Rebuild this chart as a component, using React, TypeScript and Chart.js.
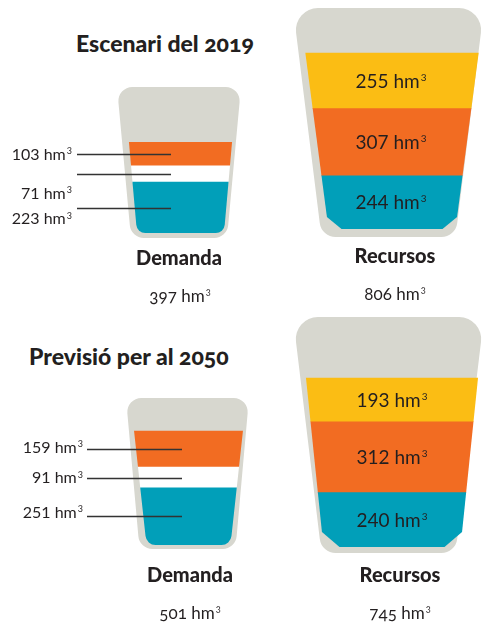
import React, { useEffect, useRef } from "react";
import { Chart, registerables } from "chart.js";

Chart.register(...registerables);

// ---------- DATA ----------
const scenarioTitles = ["Escenari del 2019", "Previsió per al 2050"];
const categoryNames = ["Demanda", "Recursos"];
const unitBase = "hm";
const unitExp = "3";
// stacked bottom -> top
const demandParts = ["Tram inferior", "Tram mitjà", "Tram superior"];
const resourceParts = ["Tram inferior", "Tram mitjà", "Tram superior"];
const demand2019 = [223, 71, 103];
const resources2019 = [244, 307, 255];
const demand2050 = [251, 91, 159];
const resources2050 = [240, 312, 193];

// ---------- STYLE ----------
const W = 487;
const H = 625;
const FONT = "Lato, 'Open Sans', sans-serif";
const TEXT = "#231f20";
const GRAY = "#d7d7cf";
const TEAL = "#019fb9";
const ORANGE = "#f26c22";
const YELLOW = "#fbbd14";
const WHITE = "#ffffff";
const demandColors = [TEAL, WHITE, ORANGE];
const resourceColors = [TEAL, ORANGE, YELLOW];

type Outer = { cx: number; top: number; bottom: number; topW: number; bottomW: number; rTop: number; rBot: number };
type Inner = { cx: number; top: number; bottom: number; topW: number; bottomW: number; r?: number; chamfer?: [number, number] };
type Cup = {
  kind: "demand" | "resources";
  yMax: number;
  outer: Outer;
  inner: Inner;
  leader?: { textRight: number; lineStart: number; lineEnd: number; labelDy: number[] };
  labelX?: number;
};

const cups: Cup[] = [
  {
    kind: "demand",
    yMax: 640,
    outer: { cx: 179, top: 87, bottom: 238, topW: 124, bottomW: 96, rTop: 14, rBot: 14 },
    inner: { cx: 180.5, top: 92, bottom: 233, topW: 112, bottomW: 87, r: 9 },
    leader: { textRight: 72, lineStart: 77, lineEnd: 171, labelDy: [11, 19, 0] },
  },
  {
    kind: "resources",
    yMax: 1012,
    outer: { cx: 388.5, top: 8, bottom: 237, topW: 191, bottomW: 134, rTop: 22, rBot: 16 },
    inner: { cx: 392, top: 16, bottom: 229, topW: 183, bottomW: 127, chamfer: [13, 12] },
    labelX: 391,
  },
  {
    kind: "demand",
    yMax: 646,
    outer: { cx: 187.5, top: 398, bottom: 549, topW: 123, bottomW: 96, rTop: 14, rBot: 14 },
    inner: { cx: 188.5, top: 403, bottom: 545, topW: 115, bottomW: 84, r: 10 },
    leader: { textRight: 83, lineStart: 87, lineEnd: 182, labelDy: [-4, 0, -2] },
  },
  {
    kind: "resources",
    yMax: 1014,
    outer: { cx: 388.5, top: 317, bottom: 553, topW: 191, bottomW: 134, rTop: 22, rBot: 16 },
    inner: { cx: 392, top: 325, bottom: 547, topW: 183, bottomW: 137, chamfer: [16, 15] },
    labelX: 392,
  },
];

const cupValues = [demand2019, resources2019, demand2050, resources2050];

function outerPath(ctx: CanvasRenderingContext2D, o: Outer) {
  const pts: [number, number][] = [
    [o.cx - o.topW / 2, o.top],
    [o.cx + o.topW / 2, o.top],
    [o.cx + o.bottomW / 2, o.bottom],
    [o.cx - o.bottomW / 2, o.bottom],
  ];
  const radii = [o.rTop, o.rTop, o.rBot, o.rBot];
  ctx.beginPath();
  ctx.moveTo(o.cx, o.top);
  for (let i = 1; i <= 4; i++) {
    const p = pts[i % 4];
    const q = pts[(i + 1) % 4];
    ctx.arcTo(p[0], p[1], q[0], q[1], radii[i % 4]);
  }
  ctx.closePath();
}

function innerPath(ctx: CanvasRenderingContext2D, c: Inner) {
  const xl = (y: number) => c.cx - c.topW / 2 + ((c.topW - c.bottomW) / 2) * ((y - c.top) / (c.bottom - c.top));
  const xr = (y: number) => 2 * c.cx - xl(y);
  ctx.beginPath();
  ctx.moveTo(xl(c.top), c.top);
  ctx.lineTo(xr(c.top), c.top);
  if (c.chamfer) {
    const [h, v] = c.chamfer;
    ctx.lineTo(xr(c.bottom - v), c.bottom - v);
    ctx.lineTo(xr(c.bottom) - h, c.bottom);
    ctx.lineTo(xl(c.bottom) + h, c.bottom);
    ctx.lineTo(xl(c.bottom - v), c.bottom - v);
  } else {
    const r = c.r || 0;
    ctx.arcTo(xr(c.bottom), c.bottom, xl(c.bottom), c.bottom, r);
    ctx.arcTo(xl(c.bottom), c.bottom, xl(c.top), c.top, r);
  }
  ctx.closePath();
}

// draws "<value> hm" followed by a small raised 3
function drawValue(
  ctx: CanvasRenderingContext2D,
  value: number,
  x: number,
  y: number,
  size: number,
  align: "left" | "right" | "center"
) {
  const main = `${value} ${unitBase}`;
  const expSize = Math.round(size * 0.55);
  ctx.font = `${size}px ${FONT}`;
  const wMain = ctx.measureText(main).width;
  ctx.font = `${expSize}px ${FONT}`;
  const wExp = ctx.measureText(unitExp).width + 1;
  const total = wMain + wExp;
  let x0 = x;
  if (align === "center") x0 = x - total / 2;
  else if (align === "right") x0 = x - total;
  ctx.textAlign = "left";
  ctx.textBaseline = "alphabetic";
  const base = y + size * 0.36;
  ctx.font = `${size}px ${FONT}`;
  ctx.fillText(main, x0, base);
  ctx.font = `${expSize}px ${FONT}`;
  ctx.fillText(unitExp, x0 + wMain + 1, base - size * 0.36);
}

function makePlugin(cup: Cup, values: number[]) {
  return {
    id: "cup",
    beforeDatasetsDraw(chart: any) {
      const ctx: CanvasRenderingContext2D = chart.ctx;
      ctx.save();
      outerPath(ctx, cup.outer);
      ctx.fillStyle = GRAY;
      ctx.fill();
      innerPath(ctx, cup.inner);
      ctx.clip();
    },
    afterDatasetsDraw(chart: any) {
      const ctx: CanvasRenderingContext2D = chart.ctx;
      ctx.restore();
      ctx.save();
      values.forEach((v, i) => {
        const bar = chart.getDatasetMeta(i).data[0];
        if (!bar) return;
        const mid = (bar.y + bar.base) / 2;
        ctx.fillStyle = TEXT;
        if (cup.kind === "demand" && cup.leader) {
          const L = cup.leader;
          const y = Math.round(mid) + 0.5;
          ctx.strokeStyle = "#333333";
          ctx.lineWidth = 1.3;
          ctx.beginPath();
          ctx.moveTo(L.lineStart, y);
          ctx.lineTo(L.lineEnd, y);
          ctx.stroke();
          drawValue(ctx, v, L.textRight, mid + L.labelDy[i], 16, "right");
        } else {
          drawValue(ctx, v, cup.labelX || bar.x, mid, 19, "center");
        }
      });
      ctx.restore();
    },
  };
}

function CupChart({ index }: { index: number }) {
  const ref = useRef<HTMLCanvasElement | null>(null);
  useEffect(() => {
    const cup = cups[index];
    const values = cupValues[index];
    const colors = cup.kind === "demand" ? demandColors : resourceColors;
    const names = cup.kind === "demand" ? demandParts : resourceParts;
    const o = cup.outer;
    const chart = new Chart(ref.current as HTMLCanvasElement, {
      type: "bar",
      data: {
        labels: [categoryNames[index % 2]],
        datasets: values.map((v, i) => ({
          label: names[i],
          data: [v],
          backgroundColor: colors[i],
          borderWidth: 0,
          barPercentage: 1,
          categoryPercentage: 1,
        })),
      },
      options: {
        animation: false,
        responsive: false,
        maintainAspectRatio: false,
        devicePixelRatio: 1,
        events: [],
        layout: {
          padding: {
            left: o.cx - o.topW / 2,
            right: W - (o.cx + o.topW / 2),
            top: o.top,
            bottom: H - cup.inner.bottom,
          },
        },
        plugins: { legend: { display: false }, tooltip: { enabled: false }, title: { display: false } },
        scales: {
          x: { stacked: true, display: false },
          y: { stacked: true, display: false, min: 0, max: cup.yMax },
        },
      },
      plugins: [makePlugin(cup, values)],
    } as any);
    return () => chart.destroy();
  }, [index]);
  return (
    <canvas
      ref={ref}
      width={W}
      height={H}
      style={{ position: "absolute", left: 0, top: 0, width: W, height: H }}
    />
  );
}

function Txt({ x, base, size, weight, align, children }: any) {
  const top = base - 0.987 * size;
  const style: React.CSSProperties = {
    position: "absolute",
    top,
    fontFamily: FONT,
    fontSize: size,
    fontWeight: weight || 400,
    lineHeight: "normal",
    color: TEXT,
    whiteSpace: "nowrap",
    fontVariantNumeric: "oldstyle-nums",
  };
  if (align === "center") {
    style.left = x - 150;
    style.width = 300;
    style.textAlign = "center";
  } else {
    style.left = x;
  }
  return <div style={style}>{children}</div>;
}

function Total({ x, base, values }: { x: number; base: number; values: number[] }) {
  const total = values.reduce((s, v) => s + v, 0);
  return (
    <Txt x={x} base={base} size={17} align="center">
      {`${total} ${unitBase}`}
      <span style={{ fontSize: "0.55em", verticalAlign: "0.75em", marginLeft: 1 }}>{unitExp}</span>
    </Txt>
  );
}

export default function App() {
  return (
    <div
      style={{
        position: "absolute",
        left: 0,
        top: 0,
        width: W,
        height: H,
        background: "#ffffff",
        overflow: "hidden",
      }}
    >
      <Txt x={76} base={52} size={23} weight={900}>{scenarioTitles[0]}</Txt>
      <Txt x={29} base={365} size={23} weight={900}>{scenarioTitles[1]}</Txt>
      {cups.map((_, i) => (
        <CupChart key={i} index={i} />
      ))}
      <Txt x={179} base={265} size={20} weight={900} align="center">{categoryNames[0]}</Txt>
      <Total x={180} base={302} values={demand2019} />
      <Txt x={395} base={263} size={20} weight={900} align="center">{categoryNames[1]}</Txt>
      <Total x={395} base={300} values={resources2019} />
      <Txt x={190} base={582} size={20} weight={900} align="center">{categoryNames[0]}</Txt>
      <Total x={190} base={619} values={demand2050} />
      <Txt x={400} base={582} size={20} weight={900} align="center">{categoryNames[1]}</Txt>
      <Total x={400} base={619} values={resources2050} />
    </div>
  );
}
